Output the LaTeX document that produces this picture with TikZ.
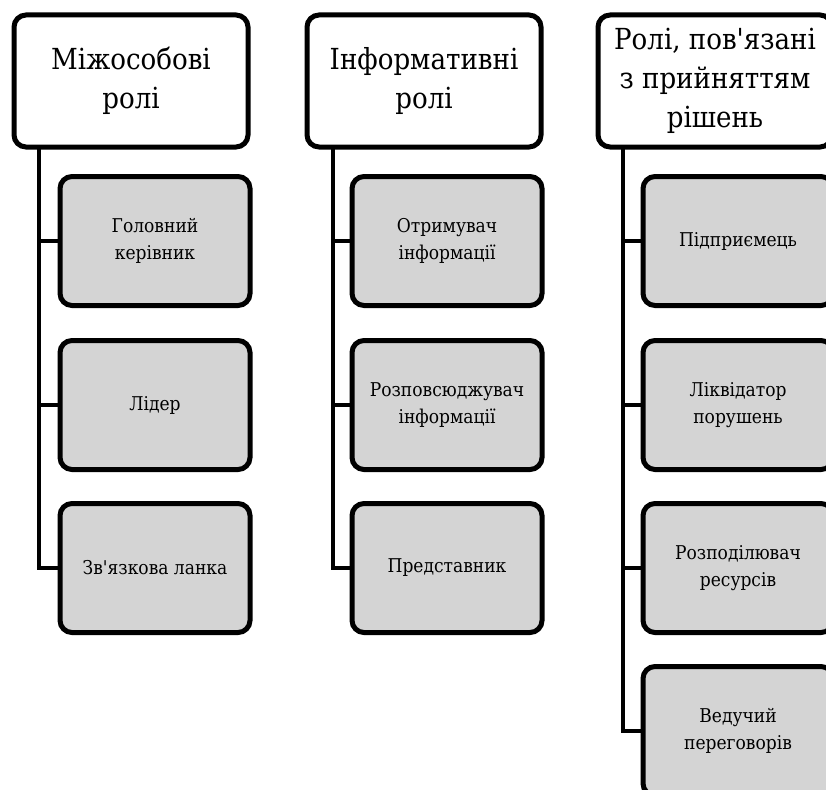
\documentclass[tikz,border=0pt]{standalone}
\usepackage{fontspec}
\setmainfont{DejaVu Serif Condensed}
\newfontfamily\hfont{DejaVu Serif Condensed}
\newfontfamily\cfont{DejaVu Serif Condensed}
\definecolor{boxgray}{RGB}{212,212,212}
\begin{document}
\begin{tikzpicture}[x=1pt,y=-1pt,
  hbox/.style={draw=black,line width=5pt,rounded corners=12pt,fill=white,
    minimum width=234pt,minimum height=132pt,align=center,inner sep=0pt,
    font=\hfont\fontsize{29}{39}\selectfont},
  cbox/.style={draw=black,line width=5pt,rounded corners=12pt,fill=boxgray,
    minimum width=190pt,minimum height=129pt,align=center,inner sep=0pt,
    font=\cfont\fontsize{19}{27}\selectfont},
  conn/.style={draw=black,line width=4pt}]
\useasboundingbox (0,0) rectangle (826,789);
\clip (0,0) rectangle (826,789);
% column 1
\node[hbox] (h1) at (131,81) {Міжособові\\ролі};
\node[cbox] (a1) at (155,241) {Головний\\керівник};
\node[cbox] (a2) at (155,405) {Лідер};
\node[cbox] (a3) at (155,568) {Зв\textquotesingle язкова ланка};
\coordinate (v1) at (39,147);
\draw[conn] (v1) |- (a3.west);
\draw[conn] (v1 |- a1.west) -- (a1.west);
\draw[conn] (v1 |- a2.west) -- (a2.west);
% column 2
\node[hbox] (h2) at (424,81) {Інформативні\\ролі};
\node[cbox] (b1) at (447,241) {Отримувач\\інформації};
\node[cbox] (b2) at (447,405) {Розповсюджувач\\інформації};
\node[cbox] (b3) at (447,568) {Представник};
\coordinate (v2) at (333,147);
\draw[conn] (v2) |- (b3.west);
\draw[conn] (v2 |- b1.west) -- (b1.west);
\draw[conn] (v2 |- b2.west) -- (b2.west);
% column 3
\node[hbox] (h3) at (715,81) {Ролі, пов\textquotesingle язані\\з прийняттям\\рішень};
\node[cbox] (c1) at (738,241) {Підприємець};
\node[cbox] (c2) at (738,405) {Ліквідатор\\порушень};
\node[cbox] (c3) at (738,568) {Розподілювач\\ресурсів};
\node[cbox] (c4) at (738,731) {Ведучий\\переговорів};
\coordinate (v3) at (623,147);
\draw[conn] (v3) |- (c4.west);
\draw[conn] (v3 |- c1.west) -- (c1.west);
\draw[conn] (v3 |- c2.west) -- (c2.west);
\draw[conn] (v3 |- c3.west) -- (c3.west);
\end{tikzpicture}
\end{document}
